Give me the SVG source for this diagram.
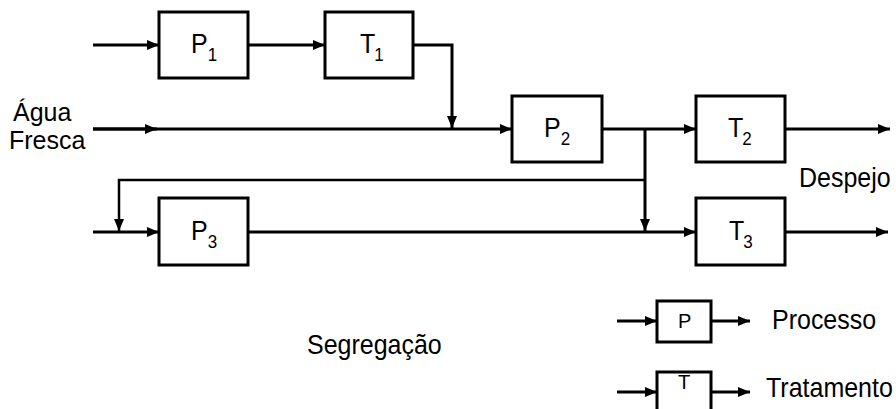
<svg xmlns="http://www.w3.org/2000/svg" width="896" height="409" viewBox="0 0 896 409">
<style>
.box{fill:#fff;stroke:#000;stroke-width:3}
.ln{fill:none;stroke:#000;stroke-width:3}
.thin{fill:none;stroke:#000;stroke-width:2.5}
text{font-family:"Liberation Sans",Arial,sans-serif;fill:#000}
.lb{font-size:25px}
.sub{font-size:17px}
.lg{font-size:20px}
</style>
<defs>
<marker id="ah" viewBox="0 0 12 10" refX="12" refY="5" markerWidth="12" markerHeight="10" markerUnits="userSpaceOnUse" orient="auto">
<path d="M0,0 L12,5 L0,10 z" fill="#000"/>
</marker>
</defs>
<rect width="896" height="409" fill="#fff"/>
<g id="connectors">
<path class="ln" d="M93,45 H159" marker-end="url(#ah)"/>
<path class="ln" d="M248,45 H325" marker-end="url(#ah)"/>
<path class="ln" d="M413,45 H452 V128" marker-end="url(#ah)"/>
<path class="ln" d="M93,129 H512" marker-end="url(#ah)"/>
<path class="ln" d="M93,129 H157" marker-end="url(#ah)"/>
<path class="ln" d="M602,129 H696" marker-end="url(#ah)"/>
<path class="ln" d="M785,129 H890" marker-end="url(#ah)"/>
<path class="ln" d="M645,129 V231" marker-end="url(#ah)"/>
<path class="thin" d="M645,180 H119 V231" marker-end="url(#ah)"/>
<path class="ln" d="M93,232 H159" marker-end="url(#ah)"/>
<path class="ln" d="M248,232 H696" marker-end="url(#ah)"/>
<path class="ln" d="M785,232 H888" marker-end="url(#ah)"/>
<path class="ln" d="M617,321 H657" marker-end="url(#ah)"/>
<path class="ln" d="M711,321 H750" marker-end="url(#ah)"/>
<path class="ln" d="M617,392 H657" marker-end="url(#ah)"/>
<path class="ln" d="M711,392 H750" marker-end="url(#ah)"/>
</g>
<g id="P1"><rect class="box" x="159" y="12" width="89" height="66"/><text class="lb" transform="translate(0,53) scale(1,1.1)" x="191" y="0">P<tspan class="sub" dy="7">1</tspan></text></g>
<g id="T1"><rect class="box" x="325" y="12" width="88" height="66"/><text class="lb" transform="translate(0,53) scale(1,1.1)" x="360" y="0">T<tspan class="sub" dx="-1" dy="7">1</tspan></text></g>
<g id="P2"><rect class="box" x="512" y="96" width="90" height="66"/><text class="lb" transform="translate(0,137) scale(1,1.1)" x="544" y="0">P<tspan class="sub" dy="7">2</tspan></text></g>
<g id="T2"><rect class="box" x="696" y="96" width="89" height="66"/><text class="lb" transform="translate(0,137) scale(1,1.1)" x="728" y="0">T<tspan class="sub" dx="-1" dy="7">2</tspan></text></g>
<g id="P3"><rect class="box" x="159" y="198" width="89" height="67"/><text class="lb" transform="translate(0,240) scale(1,1.1)" x="191" y="0">P<tspan class="sub" dy="7">3</tspan></text></g>
<g id="T3"><rect class="box" x="696" y="198" width="89" height="67"/><text class="lb" transform="translate(0,240) scale(1,1.1)" x="729" y="0">T<tspan class="sub" dx="-1" dy="7">3</tspan></text></g>
<g id="legendP"><rect class="box" x="657" y="301" width="54" height="41"/><text class="lg" x="678" y="328">P</text></g>
<g id="legendT"><rect class="box" x="657" y="372" width="54" height="45"/><text class="lg" x="678" y="389">T</text></g>
<g id="labels">
<text class="lb" x="13" y="121">Água</text>
<text class="lb" x="9" y="149">Fresca</text>
<text class="lb" transform="translate(0,187) scale(1,1.1)" x="799" y="0">Despejo</text>
<text class="lb" transform="translate(0,354) scale(1,1.1)" x="307" y="0">Segregação</text>
<text class="lb" transform="translate(0,329) scale(1,1.1)" x="772" y="0">Processo</text>
<text class="lb" transform="translate(0,397) scale(1,1.1)" x="766" y="0">Tratamento</text>
</g>
</svg>
